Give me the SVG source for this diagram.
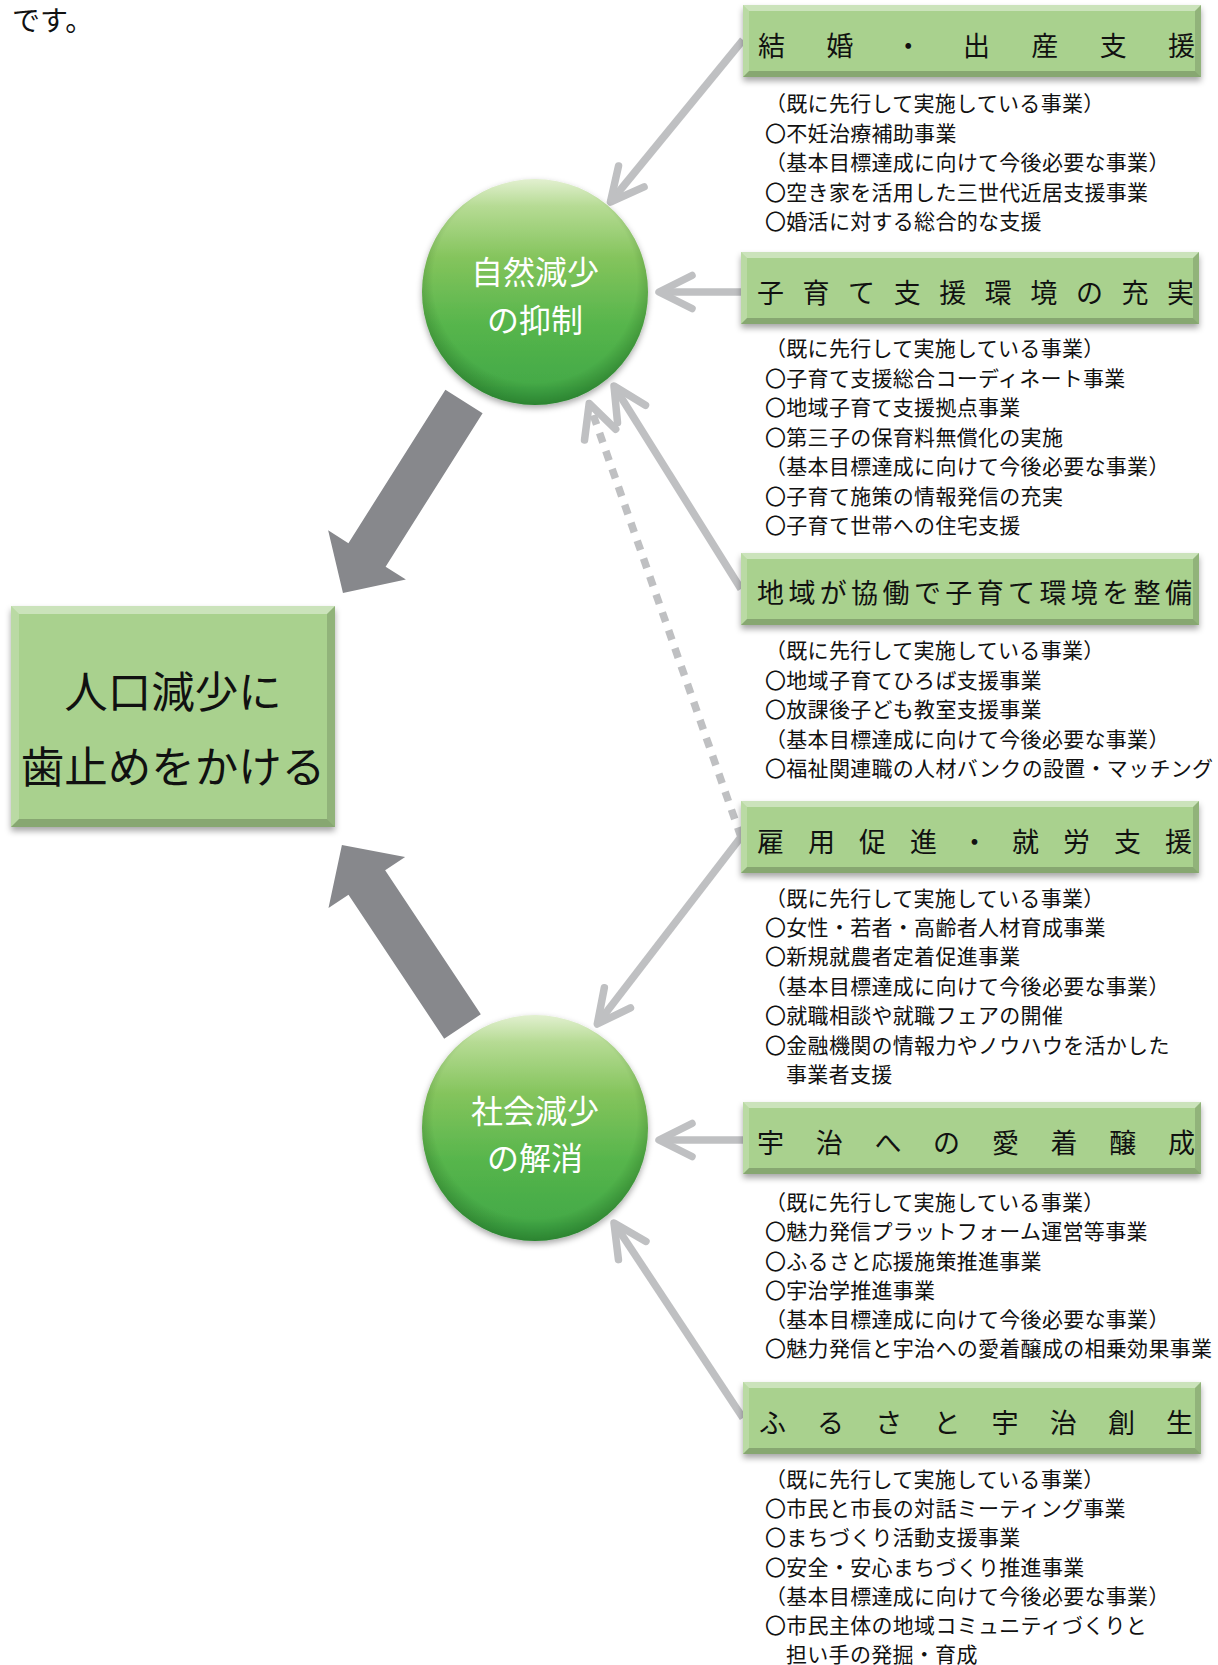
<svg xmlns="http://www.w3.org/2000/svg" xmlns:xlink="http://www.w3.org/1999/xlink" width="1218" height="1665" viewBox="0 0 1218 1665">
<defs>
<style>
.t{font-family:"Noto Sans CJK JP","Noto Sans",sans-serif;}
.item{font-size:21px;fill:#111;letter-spacing:0.3px;}
.title{font-size:27px;fill:#111;}
.ctext{font-size:32px;fill:#fff;text-anchor:middle;}
.main{font-size:43.5px;fill:#111;text-anchor:middle;}
.conn{stroke:#bfc0c2;stroke-width:7.5;fill:none;}
.dot{stroke-dasharray:10 9;}
.big{fill:#87888c;}
</style>
<filter id="sh" x="-10%" y="-20%" width="120%" height="150%">
<feDropShadow dx="0" dy="4" stdDeviation="3" flood-color="#000" flood-opacity="0.35"/>
</filter>
<filter id="csh" x="-20%" y="-20%" width="140%" height="140%">
<feDropShadow dx="0" dy="3" stdDeviation="3" flood-color="#000" flood-opacity="0.35"/>
</filter>
<linearGradient id="cg" x1="0" y1="0" x2="0" y2="1">
<stop offset="0" stop-color="#e2f0d0"/>
<stop offset="0.12" stop-color="#b6db94"/>
<stop offset="0.35" stop-color="#84c45c"/>
<stop offset="0.65" stop-color="#56b54c"/>
<stop offset="1" stop-color="#3ea645"/>
</linearGradient>
<radialGradient id="cr" cx="0.5" cy="0.45" r="0.55">
<stop offset="0.82" stop-color="#003300" stop-opacity="0"/>
<stop offset="1" stop-color="#003300" stop-opacity="0.3"/>
</radialGradient>
<marker id="ah" markerUnits="userSpaceOnUse" orient="auto" refX="0" refY="0" markerWidth="80" markerHeight="80" overflow="visible">
<path d="M-33,-16.5 L0,0 L-33,16.5" fill="none" stroke="#bfc0c2" stroke-width="7.5" stroke-linecap="round" stroke-linejoin="round"/>
</marker>
<g id="boxShape">
<rect x="0" y="0" width="458" height="72" fill="#a9d18e"/>
<polygon points="0,0 458,0 452,6 6,6" fill="#fff" fill-opacity="0.4"/>
<polygon points="0,0 6,6 6,66 0,72" fill="#fff" fill-opacity="0.2"/>
<polygon points="458,0 458,72 452,66 452,6" fill="#000" fill-opacity="0.14"/>
<polygon points="0,72 6,66 452,66 458,72" fill="#000" fill-opacity="0.2"/>
</g>
</defs>
<rect width="1218" height="1665" fill="#fff"/>
<text class="t" x="12" y="31" font-size="28" fill="#111">です。</text>

<g id="connectors">
<polygon class="big" transform="translate(464,401.5) rotate(122.3)" points="0,-22 181.5,-22 181.5,-46 226.5,0 181.5,46 181.5,22 0,22"/>
<polygon class="big" transform="translate(462.5,1026.5) rotate(-123.6)" points="0,-22 172.9,-22 172.9,-46 217.9,0 172.9,46 172.9,22 0,22"/>
<line class="conn" x1="743" y1="40" x2="610.4" y2="202" marker-end="url(#ah)"/>
<line class="conn" x1="741" y1="292" x2="659" y2="292" marker-end="url(#ah)"/>
<line class="conn" x1="741" y1="589" x2="614" y2="386" marker-end="url(#ah)"/>
<line class="conn dot" x1="741" y1="837" x2="589.2" y2="403.5" marker-end="url(#ah)"/>
<line class="conn" x1="741" y1="837" x2="597.3" y2="1024" marker-end="url(#ah)"/>
<line class="conn" x1="743" y1="1140" x2="659" y2="1140" marker-end="url(#ah)"/>
<line class="conn" x1="743" y1="1418" x2="614" y2="1223" marker-end="url(#ah)"/>
</g>

<g id="node-main">
<g filter="url(#sh)">
<rect x="11" y="606" width="324" height="221" fill="#a9d18e"/>
<polygon points="11,606 335,606 327,614 19,614" fill="#fff" fill-opacity="0.4"/>
<polygon points="11,606 19,614 19,819 11,827" fill="#fff" fill-opacity="0.2"/>
<polygon points="335,606 335,827 327,819 327,614" fill="#000" fill-opacity="0.14"/>
<polygon points="11,827 19,819 327,819 335,827" fill="#000" fill-opacity="0.2"/>
</g>
<text class="t main" x="173" y="708">人口減少に</text>
<text class="t main" x="173" y="783">歯止めをかける</text>
</g>

<g id="node-natural">
<circle cx="535" cy="292" r="113" fill="url(#cg)" filter="url(#csh)"/>
<circle cx="535" cy="292" r="113" fill="url(#cr)"/>
<text class="t ctext" x="535" y="284">自然減少</text>
<text class="t ctext" x="535" y="332">の抑制</text>
</g>

<g id="node-social">
<circle cx="535" cy="1128" r="113" fill="url(#cg)" filter="url(#csh)"/>
<circle cx="535" cy="1128" r="113" fill="url(#cr)"/>
<text class="t ctext" x="535" y="1123">社会減少</text>
<text class="t ctext" x="535" y="1170">の解消</text>
</g>

<g id="node-marriage">
<use xlink:href="#boxShape" href="#boxShape" x="743" y="5" filter="url(#sh)"/>
<text class="t title" x="758 826.3 894.7 963 1031.3 1099.7 1168" y="56">結婚・出産支援</text>
<text class="t item" x="765" y="111">（既に先行して実施している事業）</text>
<text class="t item" x="765" y="140.5">〇不妊治療補助事業</text>
<text class="t item" x="765" y="170">（基本目標達成に向けて今後必要な事業）</text>
<text class="t item" x="765" y="199.5">〇空き家を活用した三世代近居支援事業</text>
<text class="t item" x="765" y="229">〇婚活に対する総合的な支援</text>
</g>

<g id="node-childcare">
<use xlink:href="#boxShape" href="#boxShape" x="741" y="252" filter="url(#sh)"/>
<text class="t title" x="757 802.6 848.1 893.7 939.2 984.8 1030.3 1075.9 1121.4 1167" y="303">子育て支援環境の充実</text>
<text class="t item" x="765" y="356">（既に先行して実施している事業）</text>
<text class="t item" x="765" y="385.5">〇子育て支援総合コーディネート事業</text>
<text class="t item" x="765" y="415">〇地域子育て支援拠点事業</text>
<text class="t item" x="765" y="444.5">〇第三子の保育料無償化の実施</text>
<text class="t item" x="765" y="474">（基本目標達成に向けて今後必要な事業）</text>
<text class="t item" x="765" y="503.5">〇子育て施策の情報発信の充実</text>
<text class="t item" x="765" y="533">〇子育て世帯への住宅支援</text>
</g>

<g id="node-community">
<use xlink:href="#boxShape" href="#boxShape" x="741" y="553" filter="url(#sh)"/>
<text class="t title" x="757 788.4 819.8 851.1 882.5 913.9 945.3 976.7 1008.1 1039.5 1070.8 1102.2 1133.6 1165" y="603">地域が協働で子育て環境を整備</text>
<text class="t item" x="765" y="658">（既に先行して実施している事業）</text>
<text class="t item" x="765" y="687.5">〇地域子育てひろば支援事業</text>
<text class="t item" x="765" y="717">〇放課後子ども教室支援事業</text>
<text class="t item" x="765" y="746.5">（基本目標達成に向けて今後必要な事業）</text>
<text class="t item" x="765" y="776">〇福祉関連職の人材バンクの設置・マッチング</text>
</g>

<g id="node-employment">
<use xlink:href="#boxShape" href="#boxShape" x="741" y="801" filter="url(#sh)"/>
<text class="t title" x="757 808 859 910 961 1012 1063 1114 1165" y="852">雇用促進・就労支援</text>
<text class="t item" x="765" y="905.5">（既に先行して実施している事業）</text>
<text class="t item" x="765" y="935">〇女性・若者・高齢者人材育成事業</text>
<text class="t item" x="765" y="964">〇新規就農者定着促進事業</text>
<text class="t item" x="765" y="993.5">（基本目標達成に向けて今後必要な事業）</text>
<text class="t item" x="765" y="1023">〇就職相談や就職フェアの開催</text>
<text class="t item" x="765" y="1052.5">〇金融機関の情報力やノウハウを活かした</text>
<text class="t item" x="786" y="1082">事業者支援</text>
</g>

<g id="node-attachment">
<use xlink:href="#boxShape" href="#boxShape" x="743" y="1102" filter="url(#sh)"/>
<text class="t title" x="757 815.7 874.4 933.1 991.9 1050.6 1109.3 1168" y="1153">宇治への愛着醸成</text>
<text class="t item" x="765" y="1209.5">（既に先行して実施している事業）</text>
<text class="t item" x="765" y="1239">〇魅力発信プラットフォーム運営等事業</text>
<text class="t item" x="765" y="1268.5">〇ふるさと応援施策推進事業</text>
<text class="t item" x="765" y="1297.5">〇宇治学推進事業</text>
<text class="t item" x="765" y="1327">（基本目標達成に向けて今後必要な事業）</text>
<text class="t item" x="765" y="1356">〇魅力発信と宇治への愛着醸成の相乗効果事業</text>
</g>

<g id="node-hometown">
<use xlink:href="#boxShape" href="#boxShape" x="743" y="1382" filter="url(#sh)"/>
<text class="t title" x="759 817.1 875.3 933.4 991.6 1049.7 1107.9 1166" y="1433">ふるさと宇治創生</text>
<text class="t item" x="765" y="1487">（既に先行して実施している事業）</text>
<text class="t item" x="765" y="1516">〇市民と市長の対話ミーティング事業</text>
<text class="t item" x="765" y="1545">〇まちづくり活動支援事業</text>
<text class="t item" x="765" y="1574.5">〇安全・安心まちづくり推進事業</text>
<text class="t item" x="765" y="1604">（基本目標達成に向けて今後必要な事業）</text>
<text class="t item" x="765" y="1633">〇市民主体の地域コミュニティづくりと</text>
<text class="t item" x="786" y="1662">担い手の発掘・育成</text>
</g>
</svg>
